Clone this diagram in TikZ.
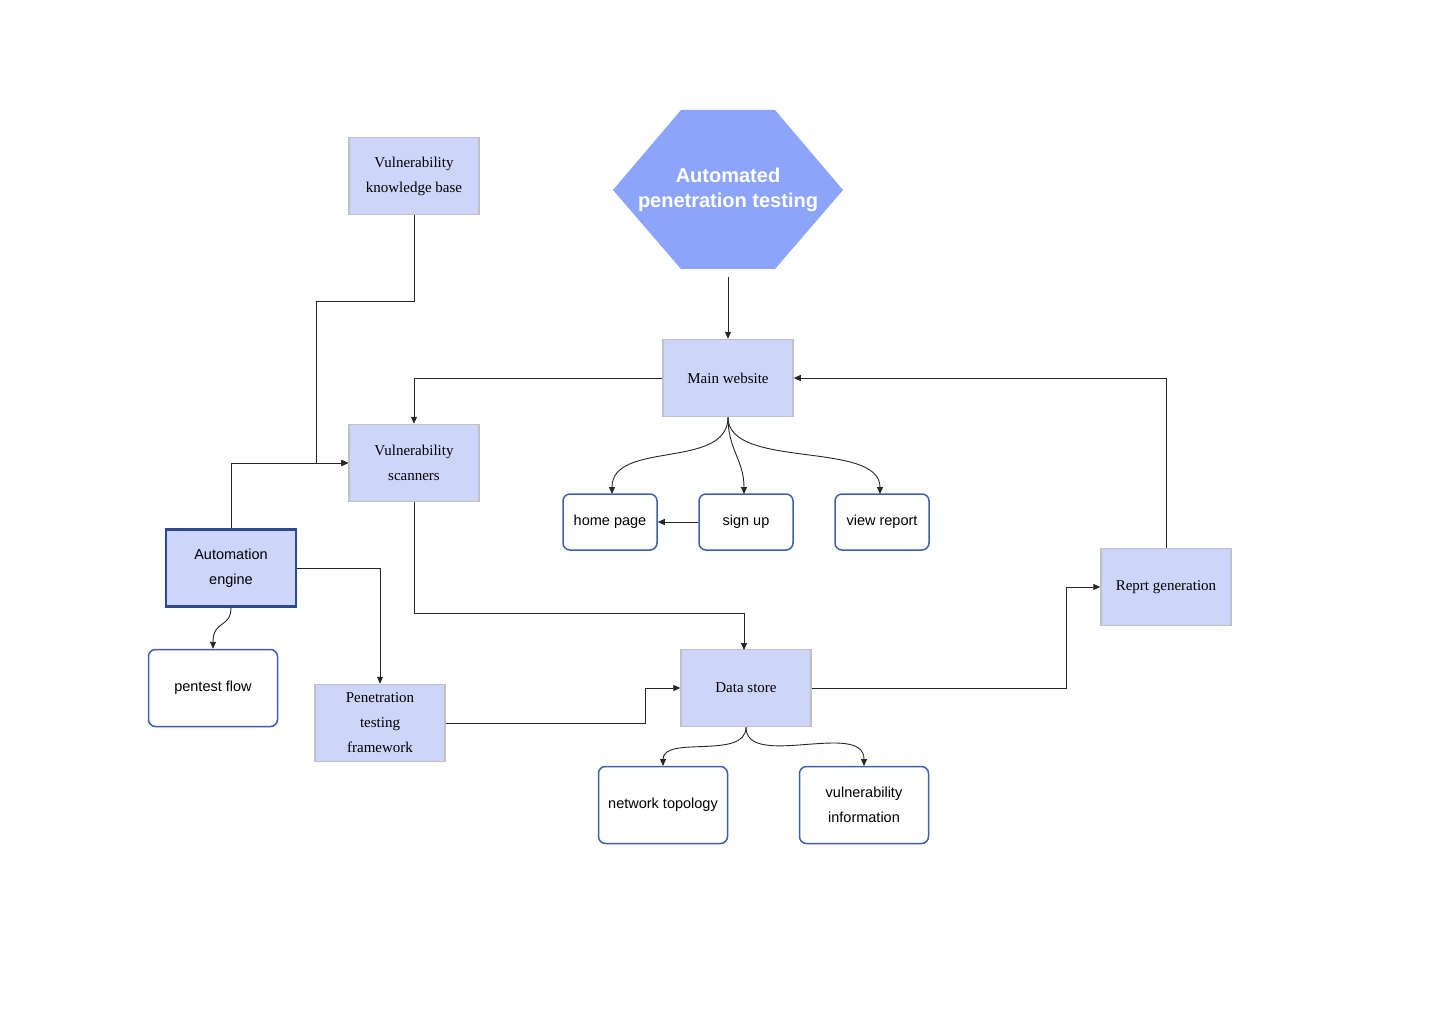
\documentclass[tikz,border=0pt]{standalone}
\usepackage{fontspec}
\setmainfont{Liberation Serif}
\setsansfont{Liberation Sans}
\usetikzlibrary{arrows.meta}
\definecolor{hexc}{HTML}{8CA5FA}
\definecolor{boxf}{HTML}{CDD5FA}
\definecolor{boxd}{HTML}{C0C0C8}
\definecolor{rb}{HTML}{3F5FAA}
\definecolor{ae}{HTML}{2B4A90}
\begin{document}
\begin{tikzpicture}[x=1pt,y=-1pt,
  box/.style={draw=boxd,line width=1.5pt,fill=boxf,minimum width=130pt,minimum height=77pt,align=center,font=\fontsize{15}{25}\selectfont},
  rbox/.style={draw=rb,line width=1.5pt,fill=white,rounded corners=7pt,align=center,font=\sffamily\fontsize{14.5}{25}\selectfont},
  ar/.style={draw=black!85,line width=0.9pt,-{Triangle[length=7pt,width=6pt]}}]
\useasboundingbox (0,0) rectangle (1448,1024);
\fill[hexc] (681,110) -- (775,110) -- (843,190) -- (775,269) -- (681,269) -- (613,190) -- cycle;
\node[text=white,font=\sffamily\bfseries\fontsize{20}{25}\selectfont,align=center] (hex) at (728,190) {Automated\\ penetration testing};
\coordinate (hexb) at (728,277);
\node[box] (kb) at (414,176) {Vulnerability\\ knowledge base};
\node[box] (mw) at (728,378) {Main website};
\node[box] (vs) at (414,463) {Vulnerability\\ scanners};
\node[box] (rg) at (1166,587) {Reprt generation};
\node[box,draw=ae,line width=2.5pt,font=\sffamily\fontsize{14.5}{25}\selectfont] (ae) at (231,568) {Automation\\ engine};
\node[box] (ptf) at (380,723) {Penetration\\ testing\\ framework};
\node[box] (ds) at (746,688) {Data store};
\node[rbox,minimum width=94pt,minimum height=56pt] (hp) at (610,522) {home page};
\node[rbox,minimum width=94pt,minimum height=56pt] (su) at (746,522) {sign up};
\node[rbox,minimum width=94pt,minimum height=56pt] (vr) at (882,522) {view report};
\node[rbox,minimum width=129pt,minimum height=77pt] (pf) at (213,688) {pentest flow};
\node[rbox,minimum width=129pt,minimum height=77pt] (nt) at (663,805) {network topology};
\node[rbox,minimum width=129pt,minimum height=77pt] (vi) at (864,805) {vulnerability\\ information};
\draw[ar] (hexb) -- (mw.north);
\draw[ar] (mw.west) -| (vs.north);
\draw[ar] (rg.north) |- (mw.east);
\draw[ar] (kb.south) -- (414,301) -- (316,301) -- (316,463) -- (vs.west);
\draw[ar] (ae.north) |- (vs.west);
\draw[ar] (ae.east) -| (ptf.north);
\draw[ar] (ae.south) .. controls (231,628) and (213,620) .. (pf.north);
\draw[ar] (vs.south) -- (414,613) -- (744,613) -- (744,650);
\draw[ar] (ptf.east) -- (645,723) -- (645,688) -- (ds.west);
\draw[ar] (ds.east) -- (1066,688) -- (1066,587) -- (rg.west);
\draw[ar] (mw.south) .. controls (728,470) and (612,440) .. (612,494);
\draw[ar] (mw.south) .. controls (728,450) and (744,460) .. (744,494);
\draw[ar] (mw.south) .. controls (728,470) and (880,440) .. (880,494);
\draw[ar] (su.west) -- (hp.east);
\draw[ar] (ds.south) .. controls (746,760) and (663,735) .. (663,766);
\draw[ar] (ds.south) .. controls (746,770) and (864,720) .. (864,766);
\end{tikzpicture}
\end{document}
